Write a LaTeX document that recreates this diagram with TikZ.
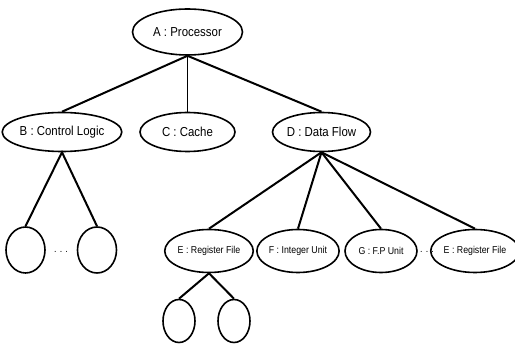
\documentclass[tikz,border=0pt]{standalone}
\usepackage{fontspec}
\setmainfont{Liberation Sans}[FakeStretch=0.88]
\usetikzlibrary{shapes.geometric}
\tikzset{
  unit/.style={draw,ellipse,line width=1.6pt,inner sep=0pt,font=\fontsize{13}{13}\selectfont},
  subunit/.style={unit,font=\fontsize{10}{10}\selectfont},
  leaf/.style={draw,ellipse,line width=1.6pt,inner sep=0pt},
  link/.style={line width=2pt}
}

\begin{document}
\begin{tikzpicture}[x=1pt,y=-1pt]
    \useasboundingbox (0,0) rectangle (515,347);
    % top level
    \node[unit,minimum width=110,minimum height=46] (A) at (187.5,32) {A : Processor};
    % second level
    \node[unit,minimum width=96,minimum height=39] (B) at (62,132) {B : Control Logic};
    \node[unit,minimum width=95,minimum height=39] (C) at (187.5,132) {C : Cache};
    \node[unit,minimum width=95,minimum height=39] (D) at (321.5,132) {D : Data Flow};
    % children of the control logic
    \node[leaf,minimum width=39,minimum height=46] (B1) at (25.5,250) {};
    \node[leaf,minimum width=39,minimum height=46] (B2) at (97,250) {};
    \node (Bdots) at (61,252) {. . .};
    % children of the data flow
    \node[subunit,minimum width=72,minimum height=43] (E)  at (209,251) {E : Register File};
    \node[subunit,minimum width=72,minimum height=43] (F)  at (298,251) {F : Integer Unit};
    \node[subunit,minimum width=72,minimum height=43] (G)  at (381,251) {G : F.P Unit};
    \node[subunit,minimum width=79,minimum height=43] (E2) at (475,251) {E : Register File};
    \node (Ddots) at (427,252) {. . .};
    % children of the register file
    \node[leaf,minimum width=32,minimum height=43] (E1) at (179,321) {};
    \node[leaf,minimum width=32,minimum height=43] (E3) at (234,321) {};
    % tree edges
    \draw[link] (B.north) -- (A.south) -- (D.north);
    \draw[line width=1.2pt] (A.south) -- (C.north);
    \draw[link] (B1.north) -- (B.south) -- (B2.north);
    \foreach \k in {E,F,G,E2} \draw[link] (D.south) -- (\k.north);
    \draw[link] (E1.north) -- (E.south) -- (E3.north);
\end{tikzpicture}
\end{document}
